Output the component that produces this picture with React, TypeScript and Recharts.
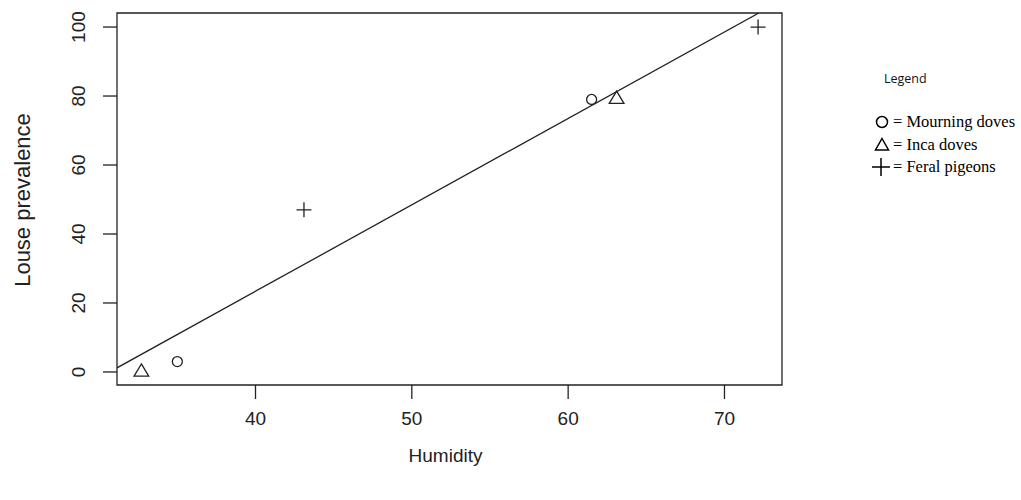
import React from 'react';
import { ScatterChart, Scatter, XAxis, YAxis, ReferenceArea, Legend } from 'recharts';

const mourningX = [35.0, 61.5];
const mourningY = [3.0, 79.0];
const incaX = [32.7, 63.1];
const incaY = [0.3, 79.4];
const feralX = [43.1, 72.15];
const feralY = [47.0, 100.0];
const fitX = [31.14, 72.2];
const fitY = [1.2, 104.07];
const xTicks = [40, 50, 60, 70];
const yTicks = [0, 20, 40, 60, 80, 100];
const xDomain = [31.14, 73.68];
const yDomain = [-3.78, 104.07];

const toPts = (xs: number[], ys: number[]) => xs.map((x, i) => ({ x, y: ys[i] }));
const mourning = toPts(mourningX, mourningY);
const inca = toPts(incaX, incaY);
const feral = toPts(feralX, feralY);
const fit = toPts(fitX, fitY);

const INK = '#222';
const SANS = '"Liberation Sans", Arial, sans-serif';

const CircleShape = (p: any) => (
  <circle cx={p.cx} cy={p.cy} r={5} fill="none" stroke={INK} strokeWidth={1.3} />
);
const TriangleShape = (p: any) => {
  const s = 7;
  return (
    <path
      d={`M${p.cx},${p.cy - s} L${p.cx + s * 1.05},${p.cy + s * 0.75} L${p.cx - s * 1.05},${p.cy + s * 0.75} Z`}
      fill="none"
      stroke={INK}
      strokeWidth={1.3}
    />
  );
};
const PlusShape = (p: any) => {
  const s = 7.5;
  return (
    <path
      d={`M${p.cx - s},${p.cy} L${p.cx + s},${p.cy} M${p.cx},${p.cy - s} L${p.cx},${p.cy + s}`}
      stroke={INK}
      strokeWidth={1.3}
    />
  );
};
const NoShape = () => <g />;

const XTick = (p: any) => (
  <text x={p.x} y={p.y + 24} textAnchor="middle" fontFamily={SANS} fontSize={19} fill={INK}>
    {p.payload.value}
  </text>
);
const YTick = (p: any) => (
  <text
    x={0}
    y={0}
    transform={`translate(${p.x - 16},${p.y}) rotate(-90)`}
    textAnchor="middle"
    fontFamily={SANS}
    fontSize={19}
    fill={INK}
  >
    {p.payload.value}
  </text>
);

const XLabel = (p: any) => {
  const vb = p.viewBox || {};
  const cx = (vb.x ?? 0) + (vb.width ?? 0) / 2;
  return (
    <text x={cx - 4} y={462} textAnchor="middle" fontFamily={SANS} fontSize={19} fill={INK}>
      Humidity
    </text>
  );
};

const legendItems = [
  { label: '= Mourning doves', kind: 'circle' },
  { label: '= Inca doves', kind: 'triangle' },
  { label: '= Feral pigeons', kind: 'plus' },
];

const LegendContent = () => (
  <div style={{ position: 'relative', width: 165, height: 130 }}>
    <div
      style={{
        position: 'absolute',
        left: 28,
        top: 8,
        fontFamily: '"Open Sans", sans-serif',
        fontSize: 12.5,
        color: '#111',
      }}
    >
      Legend
    </div>
    {legendItems.map((it, i) => (
      <div
        key={it.label}
        style={{ position: 'absolute', left: 0, top: 50 + i * 22.5, height: 20, display: 'flex', alignItems: 'center' }}
      >
        <svg width={34} height={20} style={{ display: 'block' }}>
          {it.kind === 'circle' && <circle cx={26} cy={10} r={5.5} fill="none" stroke="#000" strokeWidth={1.5} />}
          {it.kind === 'triangle' && (
            <path d="M26,3.5 L32.5,15 L19.5,15 Z" fill="none" stroke="#000" strokeWidth={1.5} />
          )}
          {it.kind === 'plus' && <path d="M16,10 L34,10 M25,1 L25,19" stroke="#000" strokeWidth={1.5} />}
        </svg>
        <span
          style={{
            fontFamily: '"Liberation Serif", "Times New Roman", serif',
            fontSize: 16.5,
            color: '#000',
            marginLeft: 3,
            whiteSpace: 'nowrap',
          }}
        >
          {it.label}
        </span>
      </div>
    ))}
  </div>
);

export default function App() {
  return (
    <div style={{ position: 'absolute', left: 0, top: 0, width: 1021, height: 500, background: '#fff' }}>
      <ScatterChart
        width={1021}
        height={500}
        margin={{ top: 13, right: 239, left: 57, bottom: 55 }}
      >
        <XAxis
          type="number"
          dataKey="x"
          domain={xDomain}
          allowDataOverflow
          ticks={xTicks}
          tick={<XTick />}
          tickSize={14}
          tickLine={{ stroke: INK, strokeWidth: 1.3 }}
          axisLine={false}
          height={60}
          label={<XLabel />}
        />
        <YAxis
          type="number"
          dataKey="y"
          domain={yDomain}
          allowDataOverflow
          ticks={yTicks}
          tick={<YTick />}
          tickSize={14}
          tickLine={{ stroke: INK, strokeWidth: 1.3 }}
          axisLine={false}
          width={60}
        />
        <ReferenceArea
          x1={xDomain[0]}
          x2={xDomain[1]}
          y1={yDomain[0]}
          y2={yDomain[1]}
          fill="none"
          stroke={INK}
          strokeWidth={1.3}
          ifOverflow="visible"
        />
        <Scatter
          name="fit"
          data={fit}
          line={{ stroke: INK, strokeWidth: 1.3 }}
          shape={<NoShape />}
          legendType="none"
          isAnimationActive={false}
        />
        <Scatter name="Mourning doves" data={mourning} shape={<CircleShape />} isAnimationActive={false} />
        <Scatter name="Inca doves" data={inca} shape={<TriangleShape />} isAnimationActive={false} />
        <Scatter name="Feral pigeons" data={feral} shape={<PlusShape />} isAnimationActive={false} />
        <Legend
          layout="vertical"
          align="center"
          verticalAlign="middle"
          content={<LegendContent />}
          wrapperStyle={{ left: 856, top: 62, width: 165 }}
        />
        <text
          x={0}
          y={0}
          transform="translate(30,200) rotate(-90)"
          textAnchor="middle"
          fontFamily={SANS}
          fontSize={22}
          fill={INK}
        >
          Louse prevalence
        </text>
      </ScatterChart>
    </div>
  );
}
